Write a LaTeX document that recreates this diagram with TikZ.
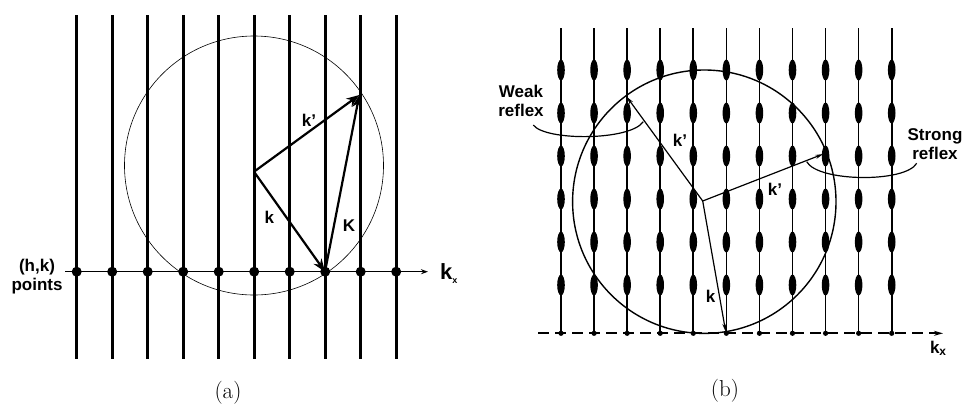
\documentclass[tikz,border=0pt]{standalone}
\usepackage{fontspec}
\setsansfont{Liberation Sans}
\usetikzlibrary{arrows.meta,calc,positioning}

\begin{document}
\begin{tikzpicture}[x=1pt,y=-1pt,>=Stealth,
  lbl/.style={font=\sffamily\bfseries\fontsize{17}{19.5}\selectfont,inner sep=1pt},
  captext/.style={font=\fontsize{23}{26}\selectfont,inner sep=0pt}]
  \useasboundingbox (0,0) rectangle (962,408);
  % (a)
  \foreach \i in {0,...,9}
    \draw[line width=2.7pt] ({76.7+35.5*\i},15) -- ({76.7+35.5*\i},359);
  \draw[line width=1.3pt,-{Stealth[length=7pt,width=5pt]}] (65,271.7) -- (428,271.7);
  \foreach \i in {0,...,9}
    \fill ({76.7+35.5*\i},271.7) circle (5pt);
  \draw[line width=0.6pt] (254,165.5) circle (129.5pt);
  \coordinate (O) at (254,171.7);
  \coordinate (G) at (325,271.7);
  \coordinate (P) at (359.3,95);
  \draw[line width=2.2pt,->] (O) -- (G);
  \draw[line width=2.2pt,->] (O) -- (P);
  \draw[line width=2.2pt,->] (G) -- (P);
  \node[lbl] (kpa) at (309,120) {k’};
  \node[lbl] (ka) at (269.3,217.3) {k};
  \node[lbl] (Ka) at (349,225.7) {K};
  \node[lbl,font=\sffamily\bfseries\fontsize{22}{24}\selectfont,anchor=base west] (kxa) at (439,279)
    {k\raisebox{-4pt}{\fontsize{9}{10}\selectfont x}};
  \node[lbl,align=center] (hk) at (37,276.5) {(h,k)\\points};
  \node[captext] (capa) at (228,393) {(a)};
  % (b)
  \foreach \i in {0,...,10} {
    \draw[line width=1.6pt] ({561+33.07*\i},28) -- ({561+33.07*\i},333.3);
    \foreach \j in {0,...,5}
      \fill ({561+33.07*\i},{70+43*\j}) ellipse (3.8pt and 10.5pt);
    \fill ({561+33.07*\i},333.3) circle (2.6pt);
  }
  \draw[line width=1.8pt,dash pattern=on 11pt off 6pt,-{Stealth[length=9pt,width=5pt]}] (538,333.3) -- (943,333.3);
  \draw[line width=1.4pt] (704.3,201.7) circle (131.7pt);
  \coordinate (Q) at (702.7,201);
  \coordinate (T) at (725.7,331.7);
  \coordinate (W) at (626.7,96.7);
  \coordinate (S) at (823.3,154);
  \draw[line width=1.2pt,-{Stealth[length=8pt,width=4pt]}] (Q) -- (T);
  \draw[line width=1.2pt,-{Stealth[length=8pt,width=4pt]}] (Q) -- (W);
  \draw[line width=1.2pt,-{Stealth[length=8pt,width=4pt]}] (Q) -- (S);
  \draw[line width=1.2pt] (533.3,125) .. controls (545,141) and (630,141) .. (643.3,121.7);
  \draw[line width=1.2pt] (806.7,161.7) .. controls (818,182) and (905,183) .. (916.7,163.3);
  \node[lbl] (kpw) at (680,140) {k’};
  \node[lbl] (kps) at (775,189) {k’};
  \node[lbl] (kb) at (710.7,296.7) {k};
  \node[lbl] (kxb) at (938.3,348.3) {k\textsubscript{x}};
  \node[lbl,align=center] (weak) at (521,101) {Weak\\reflex};
  \node[lbl,align=center] (strong) at (935,144) {Strong\\reflex};
  \node[captext] (capb) at (725,391) {(b)};
\end{tikzpicture}
\end{document}
